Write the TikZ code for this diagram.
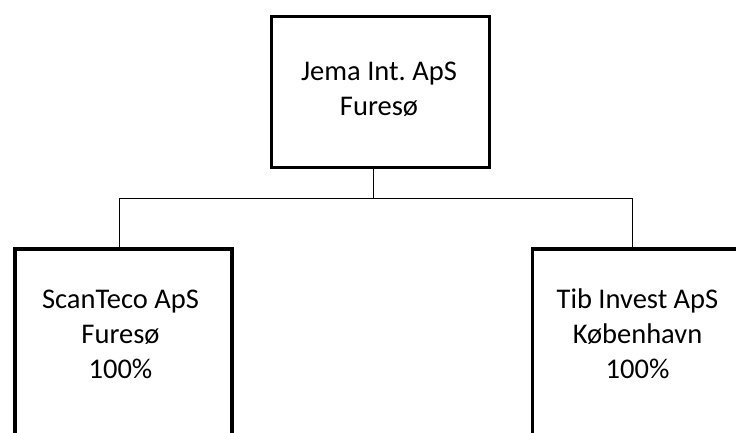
\documentclass[tikz,border=0pt]{standalone}
\usepackage{fontspec}
\setmainfont{Carlito}
\usepackage{tikz}
\frenchspacing

\tikzset{
  firm/.style={draw, line width=3.2pt, minimum width=217pt, anchor=north west, inner sep=0pt},
  firmtext/.style={align=center, anchor=base, inner sep=0pt, font=\fontsize{28.5}{35}\selectfont},
  owner/.style={line width=1.3pt}
}

\begin{document}
\begin{tikzpicture}[x=1pt,y=-1pt]
		\useasboundingbox (0,0) rectangle (736,432);
		\clip (0,0) rectangle (736,432);
		% boxes
		\node[firm, minimum width=217.7pt, minimum height=151pt] (jema) at (270,15) {};
		\node[firm, minimum height=220pt] (scan) at (13.3,247.3) {};
		\node[firm, minimum height=220pt] (tib) at (530.7,247.3) {};
		% texts (anchored at the last line)
		\node[firmtext] (jematxt) at (379,115) {Jema Int. ApS\\Furesø};
		\node[firmtext] (scantxt) at (120.5,378.3) {ScanTeco ApS\\Furesø\\100\%};
		\node[firmtext] (tibtxt) at (637.5,378.8) {Tib Invest ApS\\København\\100\%};
		% ownership lines
		\coordinate (junc) at (373.5,198.3);
		\coordinate (lj) at (119.5,198.3);
		\coordinate (rj) at (632.3,198.3);
		\draw[owner] (jema.south -| junc) -- (junc);
		\draw[owner] (scan.north -| lj) -- (lj) -- (rj) -- (tib.north -| rj);
	\end{tikzpicture}
\end{document}
